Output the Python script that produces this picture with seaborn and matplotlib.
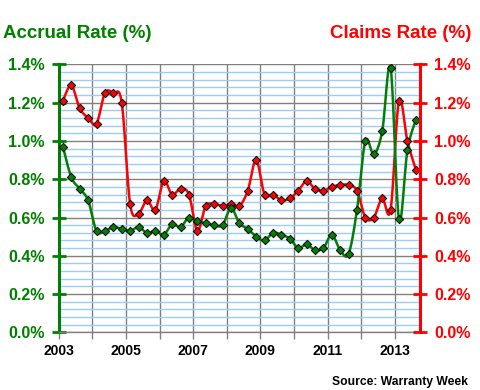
import numpy as np
import pandas as pd
import matplotlib
matplotlib.use("Agg")
import matplotlib.pyplot as plt
import seaborn as sns

# quarterly data, 2003Q1 .. 2013Q3
years = list(range(2003, 2014))
claims_rate = [1.21, 1.29, 1.17, 1.12, 1.09, 1.25, 1.25, 1.20,
               0.67, 0.62, 0.69, 0.64, 0.79, 0.72, 0.75, 0.72,
               0.53, 0.66, 0.67, 0.66, 0.67, 0.66, 0.74, 0.90,
               0.72, 0.72, 0.69, 0.70, 0.74, 0.79, 0.75, 0.74,
               0.76, 0.77, 0.77, 0.74, 0.60, 0.60, 0.70, 0.64,
               1.21, 1.00, 0.85]
accrual_rate = [0.97, 0.81, 0.75, 0.69, 0.53, 0.53, 0.55, 0.54,
                0.53, 0.55, 0.52, 0.53, 0.51, 0.565, 0.55, 0.60,
                0.58, 0.57, 0.56, 0.56, 0.65, 0.57, 0.54, 0.50,
                0.48, 0.52, 0.51, 0.49, 0.44, 0.46, 0.43, 0.44,
                0.51, 0.43, 0.41, 0.64, 1.00, 0.93, 1.05, 1.38,
                0.59, 0.95, 1.11]
quarters = [2003 + (i + 0.5) / 4 for i in range(len(claims_rate))]

GREEN = "#008000"
RED = "#ff0000"


def smooth(xs, ys, n=20):
    """Catmull-Rom style curve through the points (like Excel smoothed lines)."""
    xs, ys = np.asarray(xs, float), np.asarray(ys, float)
    px = np.concatenate([[xs[0]], xs, [xs[-1]]])
    py = np.concatenate([[ys[0]], ys, [ys[-1]]])
    out_x, out_y = [], []
    t = np.linspace(0, 1, n, endpoint=False)
    for i in range(1, len(px) - 2):
        p0 = np.array([px[i], py[i]])
        p3 = np.array([px[i + 1], py[i + 1]])
        c1 = p0 + (p3 - np.array([px[i - 1], py[i - 1]])) / 6
        c2 = p3 - (np.array([px[i + 2], py[i + 2]]) - p0) / 6
        b = ((1 - t) ** 3)[:, None] * p0 + (3 * (1 - t) ** 2 * t)[:, None] * c1 \
            + (3 * (1 - t) * t ** 2)[:, None] * c2 + (t ** 3)[:, None] * p3
        out_x.extend(b[:, 0])
        out_y.extend(b[:, 1])
    out_x.append(xs[-1])
    out_y.append(ys[-1])
    return pd.DataFrame({"x": out_x, "y": out_y})


sns.set_theme(style="white")
plt.rcParams["font.family"] = ["Liberation Sans", "DejaVu Sans"]

fig = plt.figure(figsize=(4.8, 3.9), dpi=100)
ax = fig.add_axes([0.1223, 0.1477, 0.7527, 0.6874])

# claims (red) first, accrual (green) on top
sns.lineplot(data=smooth(quarters, claims_rate), x="x", y="y", sort=False,
             color=RED, lw=1.8, ax=ax, zorder=3)
sns.lineplot(data=smooth(quarters, accrual_rate), x="x", y="y", sort=False,
             color=GREEN, lw=1.8, ax=ax, zorder=4)
sns.scatterplot(x=quarters, y=claims_rate, marker="D", s=18, color=RED,
                edgecolor="black", linewidth=0.7, ax=ax, zorder=5)
sns.scatterplot(x=quarters, y=accrual_rate, marker="D", s=18, color=GREEN,
                edgecolor="black", linewidth=0.7, ax=ax, zorder=6)

ax.set_xlim(2003, 2013.75)
ax.set_ylim(0, 1.4)
ax.set_xlabel("")
ax.set_ylabel("")

# grid
ax.set_axisbelow(True)
ax.set_yticks(np.arange(0, 1.41, 0.2))
ax.set_yticks(np.arange(0, 1.41, 0.04), minor=True)
ax.yaxis.grid(True, which="minor", color="#99ccff", lw=1)
ax.yaxis.grid(True, which="major", color="#808080", lw=1)
ax.set_xticks(years)
ax.set_xticklabels([str(y) if y % 2 == 1 else "" for y in years])
ax.xaxis.grid(True, which="major", color="#808080", lw=1)
ax.tick_params(axis="y", which="minor", length=0)

ylabels = [f"{v:.1f}%" for v in np.arange(0, 1.41, 0.2)]
ax.set_yticklabels(ylabels)
ax.tick_params(axis="y", which="major", direction="inout", length=10, width=2,
               color=GREEN, labelcolor=GREEN, labelsize=11.5, pad=5)
ax.tick_params(axis="x", which="major", direction="out", length=5, width=1,
               color="#808080", labelcolor="black", labelsize=10, pad=3,
               bottom=True)
for lab in ax.get_yticklabels() + ax.get_xticklabels():
    lab.set_fontweight("bold")

for side in ["top", "right"]:
    ax.spines[side].set_visible(False)
ax.spines["left"].set_color(GREEN)
ax.spines["left"].set_linewidth(2.2)
ax.spines["bottom"].set_color("#808080")
ax.spines["bottom"].set_linewidth(1)

# right axis for the claims rate
ax2 = ax.twinx()
ax2.set_ylim(0, 1.4)
ax2.set_yticks(np.arange(0, 1.41, 0.2))
ax2.set_yticklabels(ylabels)
ax2.tick_params(axis="y", which="major", direction="inout", length=10, width=2,
                color=RED, labelcolor=RED, labelsize=11.5, pad=5)
for lab in ax2.get_yticklabels():
    lab.set_fontweight("bold")
for side in ["top", "left", "bottom"]:
    ax2.spines[side].set_visible(False)
ax2.spines["right"].set_color(RED)
ax2.spines["right"].set_linewidth(2.2)
ax2.grid(False)

fig.text(3 / 480, 1 - 38 / 390, "Accrual Rate (%)", color=GREEN,
         fontsize=13.5, fontweight="bold", ha="left", va="baseline")
fig.text(471 / 480, 1 - 38 / 390, "Claims Rate (%)", color=RED,
         fontsize=13.5, fontweight="bold", ha="right", va="baseline")
fig.text(468 / 480, 1 - 385 / 390, "Source: Warranty Week", color="black",
         fontsize=8.7, fontweight="bold", ha="right", va="baseline")

fig.savefig("out.png", dpi=100)
